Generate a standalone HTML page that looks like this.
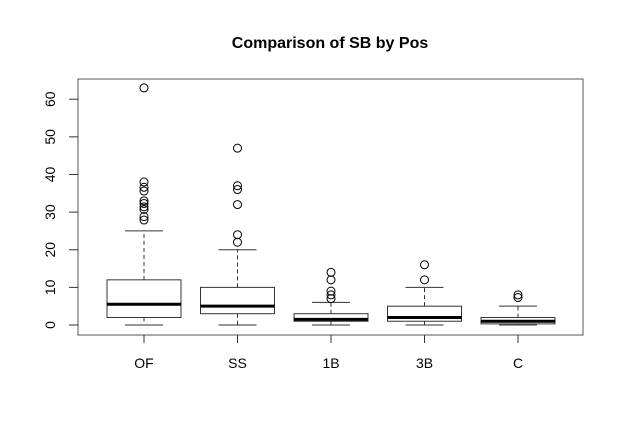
<!DOCTYPE html>
<html><head><meta charset="utf-8"><style>
body{margin:0;background:#fff}
svg{display:block;font-family:"Liberation Sans",Arial,sans-serif}
</style></head><body>
<svg id="chart" width="624" height="433" viewBox="0 0 624 433" xmlns="http://www.w3.org/2000/svg">
<text x="330" y="48" text-anchor="middle" font-size="16" font-weight="bold">Comparison of SB by Pos</text>
<rect x="78" y="79" width="505" height="256" fill="none" stroke="#555" stroke-width="1"/>
<g id="g"></g>
</svg>
<script>
const categories = ["OF","SS","1B","3B","C"];
const q1 = [2, 3, 1, 1, 0.3];
const medians = [5.5, 5, 1.5, 2, 1];
const q3 = [12, 10, 3, 5, 2];
const whiskerLow = [0, 0, 0, 0, 0];
const whiskerHigh = [25, 20, 6, 10, 5];
const outliers = [
  [63, 38, 36.6, 35.6, 33, 32.3, 31.4, 30.7, 28.8, 27.9],
  [47, 37, 36, 32, 24, 22],
  [14, 12, 9, 8, 7],
  [16, 12],
  [8, 7.3]
];
const yTicks = [0, 10, 20, 30, 40, 50, 60];

const NS = "http://www.w3.org/2000/svg";
const g = document.getElementById("g");
const y = v => 325 - v * 3.763;
const x = i => 144 + i * 93.5;
function mk(tag, attrs, parent) {
  const e = document.createElementNS(NS, tag);
  for (const k in attrs) e.setAttribute(k, attrs[k]);
  (parent || g).appendChild(e);
  return e;
}
yTicks.forEach(t => {
  const l = mk("line", {x1: 69, x2: 78, y1: y(t), y2: y(t), stroke: "#333"});
  
  
  const tx = mk("text", {x: 0, y: 0, "font-size": 14, "text-anchor": "middle", transform: `translate(55,${y(t)}) rotate(-90)`});
  tx.textContent = t;
  
  
});
categories.forEach((c, i) => {
  const cx = x(i);
  const grp = mk("g", {});
  
  
  mk("line", {x1: cx, x2: cx, y1: y(q3[i]), y2: y(whiskerHigh[i]), stroke: "#333", "stroke-dasharray": "4,3"}, grp);
  mk("line", {x1: cx, x2: cx, y1: y(q1[i]), y2: y(whiskerLow[i]), stroke: "#333", "stroke-dasharray": "4,3"}, grp);
  mk("line", {x1: cx - 19, x2: cx + 19, y1: y(whiskerHigh[i]), y2: y(whiskerHigh[i]), stroke: "#333"}, grp);
  mk("line", {x1: cx - 19, x2: cx + 19, y1: y(whiskerLow[i]), y2: y(whiskerLow[i]), stroke: "#333"}, grp);
  mk("rect", {x: cx - 37, y: y(q3[i]), width: 74, height: y(q1[i]) - y(q3[i]), fill: "#fff", stroke: "#333"}, grp);
  mk("line", {x1: cx - 37, x2: cx + 37, y1: y(medians[i]), y2: y(medians[i]), stroke: "#000", "stroke-width": 3}, grp);
  outliers[i].forEach(o => {
    const p = mk("circle", {cx: cx, cy: y(o), r: 4, fill: "none", stroke: "#000"}, grp);
    
    
  });
  const t = mk("line", {x1: cx, x2: cx, y1: 335, y2: 343, stroke: "#333"});
  
  
  const lb = mk("text", {x: cx, y: 368, "font-size": 14, "text-anchor": "middle"});
  lb.textContent = c;
  
  
});
</script>
</body></html>
